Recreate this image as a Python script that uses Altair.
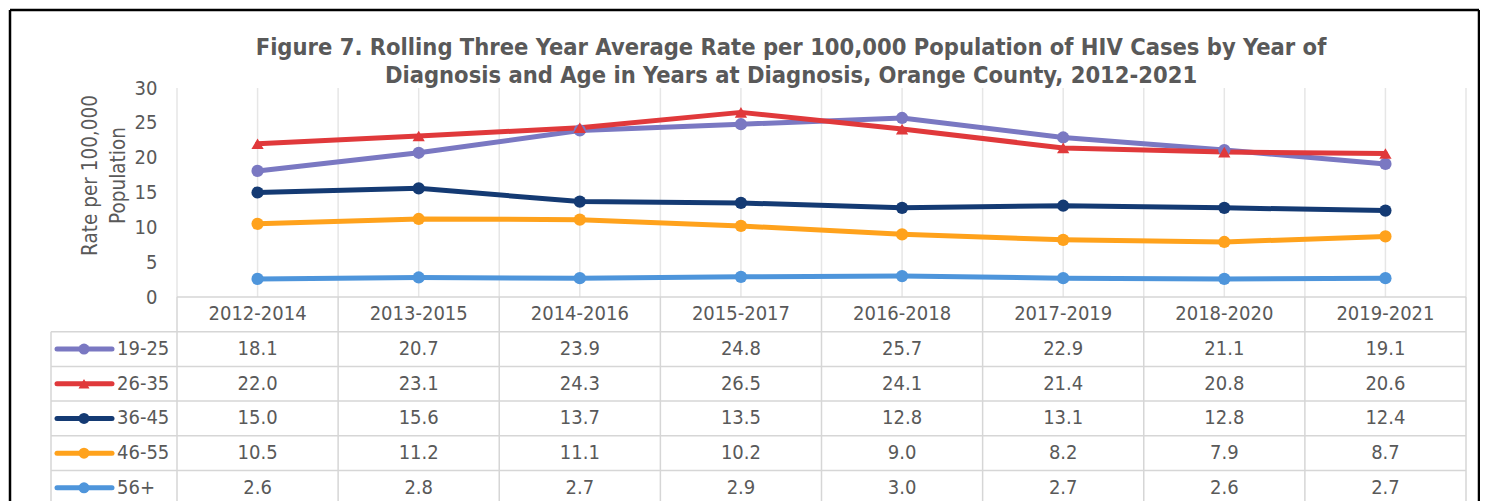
import altair as alt
import pandas as pd

# ---------------- data ----------------
periods = ["2012-2014", "2013-2015", "2014-2016", "2015-2017",
           "2016-2018", "2017-2019", "2018-2020", "2019-2021"]
groups = ["19-25", "26-35", "36-45", "46-55", "56+"]
rate_19_25 = [18.1, 20.7, 23.9, 24.8, 25.7, 22.9, 21.1, 19.1]
rate_26_35 = [22.0, 23.1, 24.3, 26.5, 24.1, 21.4, 20.8, 20.6]
rate_36_45 = [15.0, 15.6, 13.7, 13.5, 12.8, 13.1, 12.8, 12.4]
rate_46_55 = [10.5, 11.2, 11.1, 10.2, 9.0, 8.2, 7.9, 8.7]
rate_56_up = [2.6, 2.8, 2.7, 2.9, 3.0, 2.7, 2.6, 2.7]
series = [rate_19_25, rate_26_35, rate_36_45, rate_46_55, rate_56_up]
y_ticks = [0, 5, 10, 15, 20, 25, 30]
title_lines = ["Figure 7. Rolling Three Year Average Rate per 100,000 Population of HIV Cases by Year of",
               "Diagnosis and Age in Years at Diagnosis, Orange County, 2012-2021"]
y_title = ["Rate per 100,000", "Population"]

# ---------------- style ----------------
colors = ["#7A78C2", "#E0393B", "#143A73", "#FFA21C", "#4E95DB"]
shapes = ["circle", "triangle-up", "circle", "circle", "circle"]
FONT = "DejaVu Sans Condensed, DejaVu Sans, sans-serif"
TXT = "#595959"
GRID = "#E6E6E6"
TBL = "#D6D6D6"

W, H = 1289, 209          # plot area
ROW_H = 34.7              # table row height
N_ROWS = 6                # header + 5 series rows
LEG_LEFT = -126           # legend column left edge (px, relative to plot)
KEY_X0, KEY_X1, KEY_MID, LAB_X = -120, -65, -93, -60
FRAME_L, FRAME_R, FRAME_T, FRAME_B = -167, 1302, -78, 440
TITLE_X, TITLE_Y1, TITLE_Y2 = 614, -33.5, -5

# ---------------- tables ----------------
recs = []
for gi, (g, vals) in enumerate(zip(groups, series)):
    for pi, (p, v) in enumerate(zip(periods, vals)):
        recs.append(dict(group=g, period=p, idx=pi, rate=v,
                         trow=gi + 1.5, label=f"{v:.1f}", shape=shapes[gi]))
df = pd.DataFrame(recs)
df_groups = pd.DataFrame(dict(group=groups, trow=[i + 1.5 for i in range(len(groups))],
                              shape=shapes))
df_periods = pd.DataFrame(dict(period=periods, idx=list(range(len(periods)))))
n = len(periods)
df_bound = pd.DataFrame(dict(b=[i - 0.5 for i in range(n + 1)]))
df_center = pd.DataFrame(dict(b=list(range(n))))
df_hlines = pd.DataFrame(dict(r=list(range(1, N_ROWS + 1))))
df_title = pd.DataFrame(dict(t=title_lines))
one = df_groups.head(1)

xs = alt.Scale(domain=[-0.5, n - 0.5], range=[0, W], zero=False, nice=False)
ys = alt.Scale(domain=[0, 30], range=[H, 0], zero=False, nice=False)
ts = alt.Scale(domain=[0, N_ROWS], range=[H, H + N_ROWS * ROW_H], zero=False, nice=False)
cs = alt.Scale(domain=groups, range=colors)

# gridlines in plot
grid = alt.Chart(pd.concat([df_bound, df_center])).mark_rule(color=GRID, strokeWidth=1.5).encode(
    x=alt.X("b:Q", scale=xs, axis=None),
    y=alt.YDatum(30, scale=ys, axis=None),
    y2=alt.Y2Datum(0),
)

# table vertical lines
tv = alt.Chart(df_bound).mark_rule(color=TBL, strokeWidth=1.5).encode(
    x=alt.X("b:Q", scale=xs, axis=None),
    y=alt.YDatum(0, scale=ts, axis=None),
    y2=alt.Y2Datum(N_ROWS),
)
tv_leg = alt.Chart(one).mark_rule(color=TBL, strokeWidth=1.5).encode(
    x=alt.value(LEG_LEFT),
    y=alt.YDatum(1, scale=ts, axis=None),
    y2=alt.Y2Datum(N_ROWS),
)
# table horizontal lines
th0 = alt.Chart(one).mark_rule(color=TBL, strokeWidth=1.5).encode(
    x=alt.value(0), x2=alt.value(W),
    y=alt.YDatum(0, scale=ts, axis=None),
)
th = alt.Chart(df_hlines).mark_rule(color=TBL, strokeWidth=1.5).encode(
    x=alt.value(LEG_LEFT), x2=alt.value(W),
    y=alt.Y("r:Q", scale=ts, axis=None),
)

# data lines and markers
lines = alt.Chart(df).mark_line(strokeWidth=5, strokeCap="round", strokeJoin="round").encode(
    x=alt.X("idx:Q", scale=xs, axis=None),
    y=alt.Y("rate:Q", scale=ys,
            axis=alt.Axis(values=y_ticks, title=y_title, grid=False, domain=False,
                          ticks=False, tickSize=0, labelPadding=20,
                          labelFont=FONT, labelFontSize=20, labelColor=TXT,
                          titleFont=FONT, titleFontSize=20.5, titleColor=TXT,
                          titleFontWeight="normal", titlePadding=6, titleLineHeight=28,
                          titleY=87)),
    color=alt.Color("group:N", scale=cs, legend=None),
    detail="group:N",
)
points = alt.Chart(df).mark_point(filled=True, opacity=1, size=150).encode(
    x=alt.X("idx:Q", scale=xs, axis=None),
    y=alt.Y("rate:Q", scale=ys, axis=None),
    color=alt.Color("group:N", scale=cs, legend=None),
    shape=alt.Shape("shape:N", scale=None, legend=None),
)

# table texts
hdr = alt.Chart(df_periods).mark_text(font=FONT, fontSize=20, color=TXT, baseline="middle").encode(
    x=alt.X("idx:Q", scale=xs, axis=None),
    y=alt.YDatum(0.5, scale=ts, axis=None),
    text="period:N",
)
vals = alt.Chart(df).mark_text(font=FONT, fontSize=20, color=TXT, baseline="middle").encode(
    x=alt.X("idx:Q", scale=xs, axis=None),
    y=alt.Y("trow:Q", scale=ts, axis=None),
    text="label:N",
)
# legend keys
key_line = alt.Chart(df_groups).mark_rule(strokeWidth=5, strokeCap="round").encode(
    x=alt.value(KEY_X0), x2=alt.value(KEY_X1),
    y=alt.Y("trow:Q", scale=ts, axis=None),
    color=alt.Color("group:N", scale=cs, legend=None),
)
key_pt = alt.Chart(df_groups).mark_point(filled=True, opacity=1, size=120).encode(
    x=alt.value(KEY_MID),
    y=alt.Y("trow:Q", scale=ts, axis=None),
    color=alt.Color("group:N", scale=cs, legend=None),
    shape=alt.Shape("shape:N", scale=None, legend=None),
)
key_lab = alt.Chart(df_groups).mark_text(font=FONT, fontSize=20, color=TXT, align="left",
                                         baseline="middle").encode(
    x=alt.value(LAB_X),
    y=alt.Y("trow:Q", scale=ts, axis=None),
    text="group:N",
)

# title (two lines)
t1 = alt.Chart(df_title.head(1)).mark_text(font=FONT, fontSize=23.5, fontWeight="bold", color=TXT,
                                           align="center", baseline="alphabetic").encode(
    x=alt.value(TITLE_X), y=alt.value(TITLE_Y1), text="t:N")
t2 = alt.Chart(df_title.tail(1)).mark_text(font=FONT, fontSize=23.5, fontWeight="bold", color=TXT,
                                           align="center", baseline="alphabetic").encode(
    x=alt.value(TITLE_X), y=alt.value(TITLE_Y2), text="t:N")

# outer frame
fl = alt.Chart(one).mark_rule(color="black", strokeWidth=2.5).encode(
    x=alt.value(FRAME_L), y=alt.value(FRAME_T), y2=alt.value(FRAME_B))
fr = alt.Chart(one).mark_rule(color="black", strokeWidth=2.5).encode(
    x=alt.value(FRAME_R), y=alt.value(FRAME_T), y2=alt.value(FRAME_B))
ft = alt.Chart(one).mark_rule(color="black", strokeWidth=2.5).encode(
    x=alt.value(FRAME_L), x2=alt.value(FRAME_R), y=alt.value(FRAME_T))

chart = alt.layer(
    grid, tv, tv_leg, th0, th, lines, points, hdr, vals, key_line, key_pt, key_lab,
    t1, t2, fl, fr, ft
).resolve_scale(y="independent").properties(
    width=W, height=H,
    autosize=alt.AutoSizeParams(type="none"),
    padding={"left": 169, "top": 80, "right": 14, "bottom": 204},
).configure_view(stroke=None)

chart.save("out.html", embed_options={"renderer": "svg", "actions": False})
